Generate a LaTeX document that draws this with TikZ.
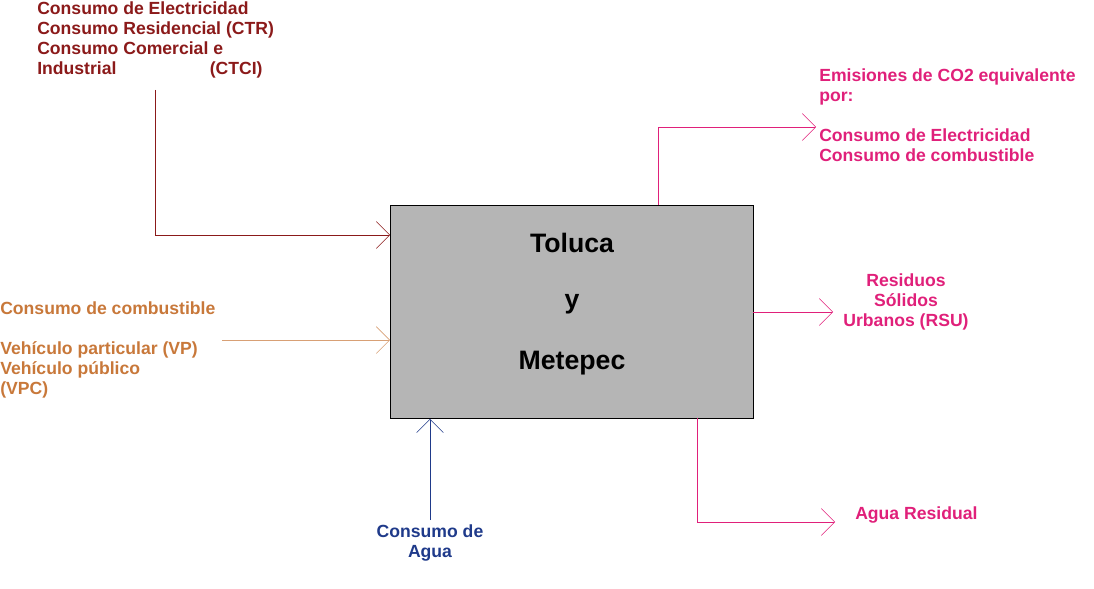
\documentclass[tikz,border=0pt]{standalone}
\usepackage{fontspec}
\setmainfont{Liberation Sans}
\usetikzlibrary{arrows.meta}
\definecolor{elec}{HTML}{8B1A1A}
\definecolor{comb}{HTML}{C8783A}
\definecolor{agua}{HTML}{1F3A8A}
\definecolor{emis}{HTML}{E0207A}
\begin{document}
\begin{tikzpicture}[x=0.75pt,y=-0.75pt]
        \useasboundingbox (0,0) rectangle (1094,588);
        \tikzset{txt/.style={font=\bfseries\fontsize{13.2}{15}\selectfont, inner sep=0pt},
                 big/.style={font=\bfseries\fontsize{20}{24}\selectfont},
                 flow/.style={-{Straight Barb[length=10pt,width=20pt]}}}
        \begin{scope}[every node/.style={txt}]
            \node[draw=black, fill=black!29, minimum width=272pt, minimum height=160pt, anchor=north west] (box) at (390,205) {};
            \node[big] (t1) at (572,243) {Toluca};
            \node[big] (t2) at (572,304) {y};
            \node[big] (t3) at (572,363) {Metepec};

            \node[elec, align=left, anchor=north west] (ctr) at (37,1)
                {Consumo de Electricidad\\Consumo Residencial (CTR)\\Consumo Comercial e\\Industrial\hspace{70pt}(CTCI)};
            \node[comb, align=left, anchor=north west] (vp) at (0,301)
                {Consumo de combustible\\[15pt]Vehículo particular (VP)\\Vehículo público\\(VPC)};
            \node[agua, align=center, anchor=north] (ag) at (430,524) {Consumo de\\Agua};
            \node[emis, align=left, anchor=north west] (em) at (819,68)
                {Emisiones de CO2 equivalente\\por:\\[15pt]Consumo de Electricidad\\Consumo de combustible};
            \node[emis, align=center] (rsu) at (906,302) {Residuos\\Sólidos\\Urbanos (RSU)};
            \node[emis, anchor=west] (ar) at (855,515) {Agua Residual};
        \end{scope}
        \coordinate (c1) at (155,90);
        \coordinate (c2) at (222,340);
        \coordinate (c3) at (430,520);
        \coordinate (c4) at (658,205);
        \coordinate (c5) at (816,127);
        \coordinate (c6) at (833,312);
        \coordinate (c7) at (697,418);
        \coordinate (c8) at (835,522);
        \begin{scope}[every path/.style={flow}]
            \draw[elec] (c1) |- (box.north west |- 0,235);
            \draw[comb!70] (c2) -- (box.west |- c2);
            \draw[agua] (c3) -- (c3 |- box.south);
            \draw[emis] (c4) |- (c5);
            \draw[emis] (box.east |- c6) -- (c6);
            \draw[emis] (c7) |- (c8);
        \end{scope}
    \end{tikzpicture}
\end{document}
